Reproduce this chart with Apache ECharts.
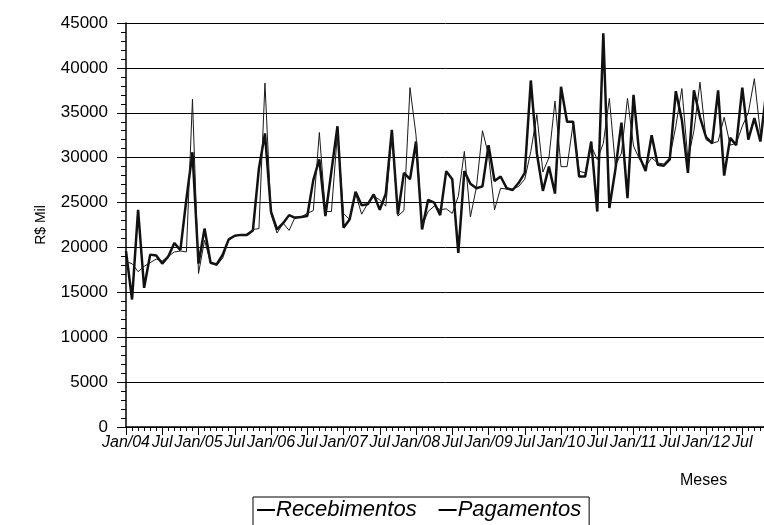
<!DOCTYPE html>
<html>
<head>
<meta charset="utf-8">
<script src="https://cdn.jsdelivr.net/npm/echarts@6/dist/echarts.min.js"></script>
<style>
html,body{margin:0;padding:0;background:#fff;}
#c{width:764px;height:525px;}
</style>
</head>
<body>
<div id="c"></div>
<script>
const monthNames = ['Jan','Fev','Mar','Abr','Mai','Jun','Jul','Ago','Set','Out','Nov','Dez'];
const years = ['04','05','06','07','08','09','10','11','12'];
const categories = [];
for (const y of years) for (const m of monthNames) categories.push(m + '/' + y);

const recebimentos = [
18400,18200,17300,17900,18300,18700,18500,19000,19500,19600,19500,36500,
17100,20800,18300,18000,18800,20800,21300,21400,21400,22000,22100,38300,
23700,21600,22700,21900,23400,23400,23800,24100,32800,24000,24000,32800,
23800,23100,26000,23700,24900,25700,25300,24600,32600,23500,24100,37800,
32500,22400,24000,24600,24200,24300,23800,25700,30700,23400,26700,33000,
30300,24200,26600,26500,26500,26800,27600,30700,34800,28400,30000,36300,
29000,29000,33800,28500,28300,31300,29800,31600,36600,29100,30500,36600,
31300,29800,29000,30000,29400,29300,30000,33500,37700,29800,33000,38400,
32000,31600,31800,34500,31400,31600,33500,35000,38800,32700,36000
];
const pagamentos = [
19600,14200,24200,15500,19200,19100,18200,19000,20500,19700,25400,30600,
18200,22100,18300,18100,19200,20900,21300,21400,21400,21900,28800,32700,
24000,22000,22700,23600,23300,23400,23500,27500,29800,23500,28500,33500,
22200,23100,26200,24700,24800,25900,24200,26000,33100,23700,28300,27600,
31800,22000,25300,25000,23600,28500,27600,19400,28500,27100,26600,26800,
31400,27400,27900,26600,26400,27200,28300,38600,30500,26300,29000,26000,
37900,34000,34000,27900,27900,31800,24000,43850,24400,28700,33900,25500,
37000,30100,28500,32500,29200,29100,29800,37400,34200,28300,37500,34500,
32300,31600,37500,28000,32200,31400,37800,32000,34400,31800,37500
];
const cats = categories.slice(0, pagamentos.length);

const yTicks = { min: 0, max: 45000, interval: 5000 };
const font = '"Liberation Sans", Arial, Helvetica, sans-serif';

const chart = echarts.init(document.getElementById('c'), null, {renderer: 'canvas'});
const gridW = (cats.length - 1) * 6.042;
chart.setOption({
  animation: false,
  backgroundColor: '#fff',
  grid: { left: 126, top: 23, width: gridW, height: 404, containLabel: false, outerBoundsMode: 'none' },
  legend: {
    left: 253, top: 497,
    data: [{ name: 'Recebimentos', icon: 'rect' }, { name: 'Pagamentos', icon: 'rect' }],
    borderColor: '#000', borderWidth: 1,
    padding: [2, 8, 6, 4],
    itemGap: 22,
    itemWidth: 18, itemHeight: 2,
    itemStyle: { color: '#000' },
    textStyle: { fontFamily: font, fontSize: 22, fontStyle: 'italic', color: '#000', padding: [0,0,0,-4] }
  },
  xAxis: [{
    type: 'category', data: cats, boundaryGap: false,
    axisLine: { lineStyle: { color: '#000', width: 1.5 } },
    axisTick: { show: true, interval: 0, length: 4, lineStyle: { color: '#000' } },
    axisLabel: { show: false },
    splitLine: { show: false }
  }, {
    type: 'category', data: cats, boundaryGap: false, position: 'bottom',
    axisLine: { show: false },
    axisTick: { show: true, interval: 5, length: 8, lineStyle: { color: '#000' } },
    axisLabel: {
      show: true, interval: 5, margin: 8,
      showMinLabel: true, showMaxLabel: true,
      fontFamily: font, fontSize: 16, fontStyle: 'italic', color: '#000',
      hideOverlap: false,
      formatter: function (v) {
        if (v.indexOf('Jan') === 0) return v;
        if (v.indexOf('Jul') === 0) return 'Jul';
        return '';
      }
    },
    splitLine: { show: false }
  }],
  yAxis: {
    type: 'value', min: yTicks.min, max: yTicks.max, interval: yTicks.interval,
    name: 'R$ Mil', nameLocation: 'middle', nameGap: 78, nameRotate: 90,
    nameTextStyle: { fontFamily: font, fontSize: 14, color: '#000' },
    axisLine: { show: true, lineStyle: { color: '#000', width: 1.5 } },
    axisTick: { show: true, length: 9, lineStyle: { color: '#000' } },
    minorTick: { show: true, splitNumber: 5, length: 5, lineStyle: { color: '#000' } },
    axisLabel: { margin: 18, fontFamily: font, fontSize: 17, color: '#000',
      formatter: function (v) { return String(v); } },
    splitLine: { show: true, lineStyle: { color: '#000', width: 1 } }
  },
  graphic: [{
    type: 'text', left: 680, top: 473,
    style: { text: 'Meses', font: '16px ' + font, fill: '#000' }
  }],
  series: [{
    name: 'Recebimentos', type: 'line', data: recebimentos,
    showSymbol: false, symbol: 'none',
    lineStyle: { color: '#1a1a1a', width: 1 },
    itemStyle: { color: '#1a1a1a' }, z: 3
  }, {
    name: 'Pagamentos', type: 'line', data: pagamentos,
    showSymbol: false, symbol: 'none',
    lineStyle: { color: '#111', width: 2.5 },
    itemStyle: { color: '#111' }, z: 2
  }]
});
</script>
</body>
</html>
